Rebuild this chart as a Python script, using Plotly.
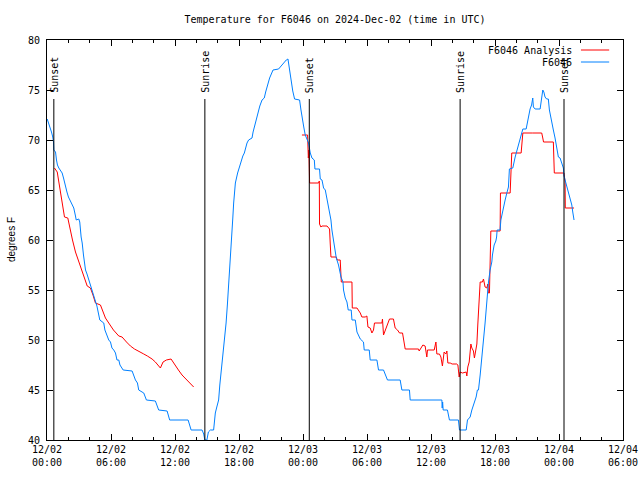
import pandas as pd
import plotly.graph_objects as go

BASE = pd.Timestamp("2024-12-02 00:00")

# Observed temperature (F6046), hours since 12/02 00:00 UTC
obs_hours = [0.02, 0.23, 0.42, 0.54, 0.61, 0.64, 0.80, 0.89, 0.98, 1.11, 1.26, 1.42, 1.55, 1.73, 1.87,
             2.01, 2.14, 2.29, 2.51, 2.67, 2.74, 2.98, 3.07, 3.20, 3.30, 3.42, 3.61, 3.75, 3.92, 4.07,
             4.23, 4.36, 4.54, 4.68, 4.95, 5.32, 5.43, 5.79, 5.95, 6.09, 6.26, 6.42, 6.56, 6.73, 6.84,
             7.14, 7.98, 8.10, 8.29, 8.48, 8.60, 9.07, 9.18, 9.32, 10.16, 10.30, 10.47, 11.26, 11.38,
             11.50, 13.23, 13.35, 13.51, 14.54, 14.69, 14.80, 14.99, 15.13, 15.32, 15.62, 15.69, 15.78,
             15.92, 16.09, 16.20, 16.32, 16.44, 16.56, 16.67, 16.79, 16.91, 17.03, 17.11, 17.19, 17.28,
             17.35, 17.42, 17.50, 17.58, 17.66, 17.87, 18.03, 18.19, 18.36, 18.50, 18.64, 18.75, 18.90,
             19.22, 19.32, 19.44, 19.58, 19.75, 19.95, 20.16, 20.37, 20.50, 20.63, 20.75, 20.87, 21.03,
             21.19, 21.71, 21.87, 22.03, 22.25, 22.43, 22.59, 22.67, 22.74, 22.83, 22.90, 23.04, 23.21,
             23.68, 23.81, 23.90, 24.00, 24.07, 24.21, 24.37, 24.52, 24.68, 24.84, 25.06, 25.12, 25.55,
             25.62, 25.78, 25.93, 26.09, 26.25, 26.40, 26.49, 26.62, 26.71, 26.86, 26.96, 27.12, 27.33,
             27.43, 27.56, 27.75, 27.80, 27.96, 28.12, 28.24, 28.52, 28.59, 28.90, 29.06, 29.18, 29.37,
             29.67, 29.74, 30.21, 30.30, 30.93, 31.08, 31.55, 31.71, 31.92, 33.11, 33.27, 33.98, 34.05,
             37.02, 37.05, 37.09, 37.14, 37.54, 37.73, 38.57, 38.67, 39.30, 39.42, 39.67, 39.83, 40.04,
             40.23, 40.35, 40.45, 40.61, 40.77, 40.92, 41.07, 41.17, 41.29, 41.38, 41.54, 41.70, 41.76,
             41.92, 42.08, 42.15, 42.20, 42.48, 42.55, 42.73, 42.95, 43.11, 43.26, 43.35, 43.67, 43.89,
             44.14, 44.35, 44.51, 44.61, 44.92, 45.04, 45.13, 45.29, 45.43, 45.54, 45.60, 45.76, 46.23,
             46.29, 46.40, 46.48, 46.58, 46.69, 46.84, 47.00, 47.10, 47.32, 47.47, 47.63, 47.79, 47.94,
             48.10, 48.26, 48.41, 48.47, 48.57, 48.78, 48.97, 49.20, 49.29, 49.41]
obs_temp = [72.1, 71.5, 70.8, 70.3, 69.8, 69.0, 68.8, 68.0, 67.5, 67.2, 67.0, 66.7, 66.2, 65.2, 64.8,
            64.3, 64.0, 63.6, 63.2, 62.4, 62.0, 62.1, 61.8, 60.3, 59.7, 58.5, 57.0, 56.6, 56.0, 55.5,
            55.0, 54.6, 54.0, 53.4, 52.0, 51.7, 51.0, 50.0, 49.8, 49.2, 49.0, 48.7, 48.0, 48.0, 47.5,
            47.0, 46.9, 46.5, 46.0, 45.7, 45.0, 44.7, 44.3, 44.0, 43.9, 43.5, 43.0, 42.9, 42.5,
            42.0, 42.0, 41.5, 41.0, 41.0, 40.6, 40.0, 40.0, 40.8, 41.0, 41.0, 42.0, 42.7,
            43.3, 44.0, 45.5, 46.7, 47.7, 48.7, 50.2, 51.7, 53.5, 55.3, 56.8, 58.0, 59.5,
            60.7, 62.2, 63.7, 64.8, 65.7, 66.7, 67.3, 68.0, 68.4, 68.7, 69.3, 69.7, 70.0,
            70.2, 70.8, 71.3, 72.0, 72.8, 73.4, 74.0, 74.2, 74.8, 75.3, 75.8, 76.2, 76.6,
            77.0, 77.1, 77.3, 77.5, 77.8, 78.0, 78.1, 77.5, 77.0, 76.3, 75.7, 74.9, 74.1,
            74.0, 73.0, 72.3, 71.7, 71.3, 70.5, 70.1, 69.7, 68.7, 68.2, 68.0, 67.1, 67.1,
            66.1, 66.0, 65.2, 65.0, 64.0, 63.4, 62.5, 62.0, 61.0, 60.0, 59.0, 58.2, 57.5,
            57.0, 56.3, 55.8, 55.0, 54.2, 53.8, 53.0, 53.0, 52.0, 52.0, 50.8, 50.5, 50.1,
            49.8, 49.0, 49.0, 48.0, 48.0, 47.0, 47.0, 46.5, 46.0, 46.0, 45.0, 45.0, 44.0,
            44.0, 43.2, 43.8, 43.0, 43.0, 42.0, 42.0, 41.0, 41.0, 42.0, 42.3, 43.0, 43.7,
            44.3, 45.0, 45.0, 46.5, 48.7, 50.0, 51.7, 53.3, 54.5, 55.7, 57.0, 57.8, 58.5,
            59.5, 59.9, 60.3, 61.0, 61.0, 62.0, 63.0, 64.0, 64.7, 65.3, 67.1, 67.2, 68.3,
            69.2, 70.0, 70.5, 71.1, 71.1, 71.7, 72.5, 73.1, 73.5, 74.2, 73.3, 73.1, 73.1,
            73.7, 74.5, 75.0, 74.8, 74.3, 74.1, 74.1, 73.0, 72.0, 71.0, 70.2, 69.0, 68.3,
            68.2, 67.7, 67.2, 66.4, 66.0, 65.0, 64.2, 63.5, 62.8, 62.0]

# Analysis temperature (F6046 Analysis); None marks the data gap
ana_hours = [0.70, 0.96, 1.08, 1.26, 1.42, 1.55, 1.64, 1.95, 2.06, 2.20, 2.39, 2.67, 2.95, 3.30, 3.51,
             3.77, 4.07, 4.31, 4.54, 5.01, 5.25, 5.48, 5.79, 6.23, 6.73, 7.04, 7.45, 7.82, 8.20, 8.60,
             9.07, 9.41, 9.85, 10.16, 10.44, 10.63, 10.88, 11.19, 11.63, 12.04, 12.32, 12.66, 13.13,
             13.44, 13.75, None,
             23.90, 24.43, 24.50, 24.55, 24.62, 25.46, 25.53, 25.55, 25.68, 25.78, 26.25, 26.49, 26.55,
             26.62, 27.12, 27.21, 27.49, 27.59, 28.59, 28.62, 29.06, 29.37, 29.52, 29.83, 29.99, 30.09,
             30.30, 30.46, 30.61, 30.70, 31.40, 31.45, 31.55, 31.71, 31.92, 32.11, 32.48, 32.64, 32.86,
             33.05, 33.33, 33.42, 33.58, 34.83, 34.89, 35.24, 35.45, 35.61, 35.67, 36.30, 36.46, 36.55,
             36.79, 36.93, 37.07, 37.23, 37.39, 37.49, 37.58, 37.80, 37.98, 38.42, 38.52, 38.64, 38.73,
             38.95, 39.30, 39.36, 39.45, 39.58, 39.74, 39.83, 39.98, 40.07, 40.20, 40.30, 40.39, 40.51,
             40.61, 40.82, 40.92, 41.07, 41.23, 41.33, 41.38, 41.48, 41.54, 41.61, 42.48, 42.51, 43.42,
             43.48, 43.57, 44.45, 44.61, 45.54, 46.38, 46.48, 46.55, 47.47, 47.54, 47.56, 48.47, 48.57,
             48.59, 49.41]
ana_temp = [67.2, 66.8, 66.0, 64.7, 64.0, 62.8, 62.3, 62.2, 61.6, 61.0, 60.0, 58.8, 58.0, 57.0, 56.2,
            55.4, 55.2, 54.5, 53.7, 53.5, 52.8, 52.2, 51.7, 51.0, 50.4, 50.3, 49.8, 49.4, 49.1, 48.9,
            48.6, 48.4, 48.1, 47.8, 47.4, 47.2, 47.8, 48.0, 48.1, 47.4, 47.0, 46.5, 46.0,
            45.6, 45.3, None,
            70.5, 70.5, 68.2, 69.0, 65.7, 65.7, 65.9, 61.6, 61.3, 61.4, 61.4, 61.1, 59.7,
            58.3, 58.3, 58.0, 58.0, 55.8, 55.8, 53.2, 53.2, 52.7, 52.3, 52.3, 52.4, 51.3,
            51.2, 50.7, 51.0, 51.7, 51.7, 52.1, 50.5, 51.0, 51.7, 52.1, 52.1, 51.2, 51.0,
            50.7, 50.7, 50.0, 49.1, 49.1, 48.9, 49.5, 49.4, 48.3, 49.0, 49.0, 49.8, 48.6,
            48.6, 48.3, 47.4, 48.8, 48.6, 48.9, 47.7, 47.7, 47.6, 47.6, 47.5, 46.3, 46.8,
            46.7, 46.8, 46.4, 47.3, 47.8, 49.6, 49.2, 48.9, 48.2, 49.0, 49.6, 51.6, 54.5,
            55.8, 55.8, 56.1, 55.3, 55.2, 55.6, 54.7, 54.7, 57.8, 60.9, 60.9, 64.7, 64.7,
            67.0, 68.7, 68.7, 70.7, 70.7, 70.7, 70.2, 69.8, 69.8, 68.3, 66.7, 66.7, 65.8,
            63.2, 63.2]

# Sunrise / sunset markers
sun_hours = [0.64, 14.80, 24.59, 38.73, 48.47]
sun_labels = ["Sunset", "Sunrise", "Sunset", "Sunrise", "Sunset"]

tick_hours = [0, 6, 12, 18, 24, 30, 36, 42, 48, 54]
tick_labels = ["12/02<br>00:00", "12/02<br>06:00", "12/02<br>12:00", "12/02<br>18:00",
               "12/03<br>00:00", "12/03<br>06:00", "12/03<br>12:00", "12/03<br>18:00",
               "12/04<br>00:00", "12/04<br>06:00"]


def to_time(hours):
    return [None if h is None else BASE + pd.Timedelta(hours=h) for h in hours]


MONO = "DejaVu Sans Mono"
RED = "#ff0000"
BLUE = "#0080ff"

W, H = 640, 480

fig = go.Figure()
fig.add_trace(go.Scatter(x=to_time(ana_hours), y=ana_temp, mode="lines",
                         line=dict(color=RED, width=1), name="F6046 Analysis",
                         connectgaps=False, showlegend=False))
fig.add_trace(go.Scatter(x=to_time(obs_hours), y=obs_temp, mode="lines",
                         line=dict(color=BLUE, width=1), name="F6046", showlegend=False))

shapes = []
annotations = []
for t, lab in zip(to_time(sun_hours), sun_labels):
    shapes.append(dict(type="line", xref="x", yref="y", x0=t, x1=t, y0=40, y1=74.1,
                       line=dict(color="black", width=1)))
    annotations.append(dict(x=t, y=74.5, xref="x", yref="y", text=lab, showarrow=False,
                            textangle=-90, xanchor="center", yanchor="bottom",
                            font=dict(family=MONO, size=10, color="black")))

# Legend (gnuplot style: text then sample line)
leg = [("F6046 Analysis", RED, 0.975), ("F6046", BLUE, 0.945)]
for name, col, yy in leg:
    annotations.append(dict(x=0.915, y=yy, xref="paper", yref="paper", text=name,
                            showarrow=False, xanchor="right", yanchor="middle",
                            font=dict(family=MONO, size=10, color="black")))
    shapes.append(dict(type="line", xref="paper", yref="paper", x0=0.927, x1=0.976,
                       y0=yy, y1=yy, line=dict(color=col, width=1)))

annotations.append(dict(x=0, y=0.5, xref="paper", yref="paper", text="degrees F",
                        showarrow=False, textangle=-90, xanchor="center", yanchor="middle",
                        xshift=-36, font=dict(family="Liberation Sans", size=10, color="black")))

fig.update_layout(
    width=W, height=H,
    margin=dict(l=47, r=17, t=40, b=40, autoexpand=False),
    paper_bgcolor="white", plot_bgcolor="white",
    title=dict(text="Temperature for F6046 on 2024-Dec-02 (time in UTC)",
               x=0.5, xref="paper", xanchor="center",
               y=1 - 19 / H, yref="container", yanchor="middle",
               font=dict(family=MONO, size=10, color="black")),
    shapes=shapes, annotations=annotations,
    showlegend=False, hovermode=False,
    font=dict(family=MONO, size=10, color="black"),
)
fig.update_xaxes(
    range=[BASE, BASE + pd.Timedelta(hours=54)],
    tickmode="array", tickvals=to_time(tick_hours), ticktext=tick_labels,
    ticks="inside", ticklen=6, tickcolor="black", tickwidth=1,
    minor=dict(tick0=BASE, dtick=2 * 3600 * 1000, ticks="inside", ticklen=3,
               tickcolor="black", tickwidth=1, showgrid=False),
    showline=True, linecolor="black", linewidth=1, mirror="allticks",
    showgrid=False, zeroline=False, automargin=False,
    tickfont=dict(family=MONO, size=10, color="black"),
)
fig.update_yaxes(
    range=[40, 80], tickmode="linear", tick0=40, dtick=5,
    ticks="inside", ticklen=6, tickcolor="black", tickwidth=1,
    ticklabelstandoff=4,
    showline=True, linecolor="black", linewidth=1, mirror="allticks",
    showgrid=False, zeroline=False, automargin=False,
    tickfont=dict(family=MONO, size=10, color="black"),
)

# remove the default 8px page margin so the figure fills the 640x480 window exactly
fig.write_html("out.html", config={"displayModeBar": False},
               post_script="document.body.style.margin='0px';document.body.style.overflow='hidden';")
